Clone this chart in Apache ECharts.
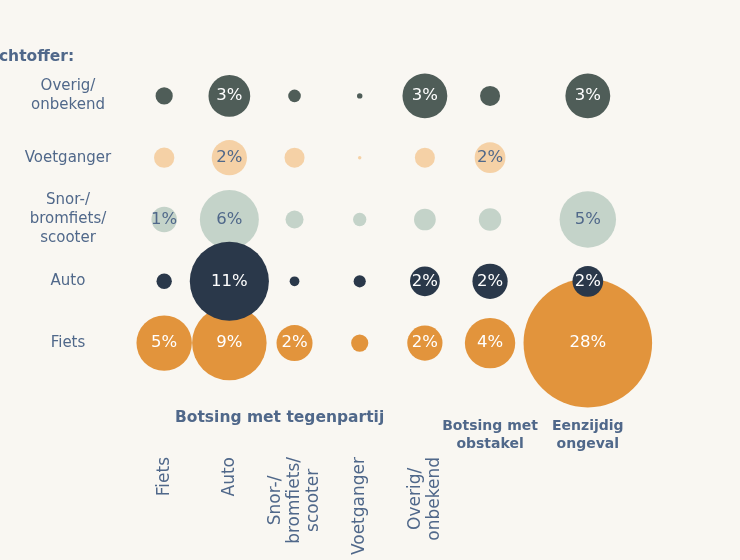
<!DOCTYPE html>
<html>
<head>
<meta charset="utf-8">
<script src="https://cdn.jsdelivr.net/npm/echarts@6/dist/echarts.min.js"></script>
<style>
    html, body { margin: 0; padding: 0; background: #f9f7f2; }
    .chart { width: 740px; height: 560px; }
</style>
</head>
<body>
<div class="bubble"><div class="chart"></div></div>
<script>
// categorieen van de tegenpartij (kolommen) en hun plaats op de x-as
var tegenpartij = ['Fiets', 'Auto', 'Snor-/\nbromfiets/\nscooter', 'Voetganger', 'Overig/\nonbekend', 'Botsing met\nobstakel', 'Eenzijdig\nongeval'];
var kolomX = [0, 1, 2, 3, 4, 5, 6.5];
// slachtoffer (rijen), van onder naar boven
var slachtoffer = ['Fiets', 'Auto', 'Snor-/\nbromfiets/\nscooter', 'Voetganger', 'Overig/\nonbekend'];
// percentages per slachtoffer, in de volgorde van de kolommen
var fiets = [5.2, 9.4, 2.2, 0.5, 2.1, 4.3, 28];
var auto = [0.4, 10.6, 0.16, 0.25, 1.5, 2.1, 1.6];
var snor = [1.1, 5.9, 0.55, 0.3, 0.8, 0.85, 5.4];
var voetganger = [0.7, 2.1, 0.68, 0.02, 0.68, 1.6, null];
var overig = [0.5, 2.95, 0.27, 0.05, 3.4, 0.68, 3.4];

(function () {
    var myChart = echarts.init(document.querySelector('.bubble .chart'));
    var tekstKleur = '#50688a';
    var font = 'DejaVu Sans';
    // bolletje: oppervlak evenredig met percentage
    var schaal = 24.3;

    // maak de punten van een rij
    function rij(waarden, naam) {
        var punten = [];
        waarden.forEach(function (v, i) {
            if (v != null) punten.push([kolomX[i], naam, v]);
        });
        return punten;
    }

    function serie(waarden, index, kleur, labelKleur, z) {
        return {
            type: 'scatter',
            z: z,
            data: rij(waarden, slachtoffer[index]),
            symbolSize: function (val) {
                return Math.sqrt(val[2]) * schaal;
            },
            itemStyle: { color: kleur, opacity: 1 },
            label: {
                show: true,
                position: 'inside',
                color: labelKleur,
                fontFamily: font,
                fontSize: 16.5,
                formatter: function (p) {
                    return p.value[2] >= 1 ? Math.round(p.value[2]) + '%' : '';
                }
            },
            emphasis: { disabled: true },
            silent: true
        };
    }

    // regels in een label centreren
    function gecentreerd(tekst) {
        return tekst.split('\n').map(function (r) { return '{c|' + r + '}'; }).join('\n');
    }

    var option = {
        backgroundColor: '#f9f7f2',
        animation: false,
        grid: {
            left: 99,
            right: 87,
            top: 65,
            bottom: 186
        },
        graphic: [{
            type: 'text',
            left: -28,
            top: 49,
            style: { text: 'Slachtoffer:', fill: tekstKleur, font: 'bold 15.5px "DejaVu Sans"' }
        }, {
            type: 'text',
            left: 175,
            top: 410,
            style: { text: 'Botsing met tegenpartij', fill: tekstKleur, font: 'bold 15.5px "DejaVu Sans"' }
        }],
        xAxis: [{
            type: 'value',
            min: -1,
            max: 7.5,
            position: 'bottom',
            axisLine: { show: false },
            axisTick: { show: false },
            splitLine: { show: false },
            axisLabel: {
                customValues: kolomX.slice(0, 5),
                rotate: 90,
                margin: 83,
                color: tekstKleur,
                fontFamily: font,
                fontSize: 17,
                lineHeight: 19,
                formatter: function (v) {
                    var i = kolomX.indexOf(v);
                    return i >= 0 ? gecentreerd(tegenpartij[i]) : '';
                },
                rich: { c: { align: 'center', color: tekstKleur, fontFamily: font, fontSize: 17, lineHeight: 19 } }
            }
        }, {
            type: 'value',
            min: -1,
            max: 7.5,
            position: 'bottom',
            axisLine: { show: false },
            axisTick: { show: false },
            splitLine: { show: false },
            axisLabel: {
                customValues: kolomX.slice(5),
                margin: 43,
                color: tekstKleur,
                fontFamily: font,
                fontSize: 14,
                fontWeight: 'bold',
                lineHeight: 18,
                formatter: function (v) {
                    var i = kolomX.indexOf(v);
                    return i >= 0 ? tegenpartij[i] : '';
                }
            }
        }],
        yAxis: {
            type: 'category',
            data: slachtoffer,
            axisLine: { show: false },
            axisTick: { show: false },
            splitLine: { show: false },
            axisLabel: {
                align: 'center',
                margin: 31,
                color: tekstKleur,
                fontFamily: font,
                fontSize: 15,
                lineHeight: 19
            }
        },
        series: [
            serie(overig, 4, '#4f5d58', '#ffffff', 2),
            serie(voetganger, 3, '#f5d1a6', tekstKleur, 2),
            serie(snor, 2, '#c4d3c9', tekstKleur, 2),
            serie(fiets, 0, '#e2943c', '#ffffff', 3),
            serie(auto, 1, '#2a384a', '#ffffff', 4)
        ]
    };
    myChart.setOption(option);
    window.addEventListener('resize', function () {
        myChart.resize();
    });
})();
</script>
</body>
</html>
